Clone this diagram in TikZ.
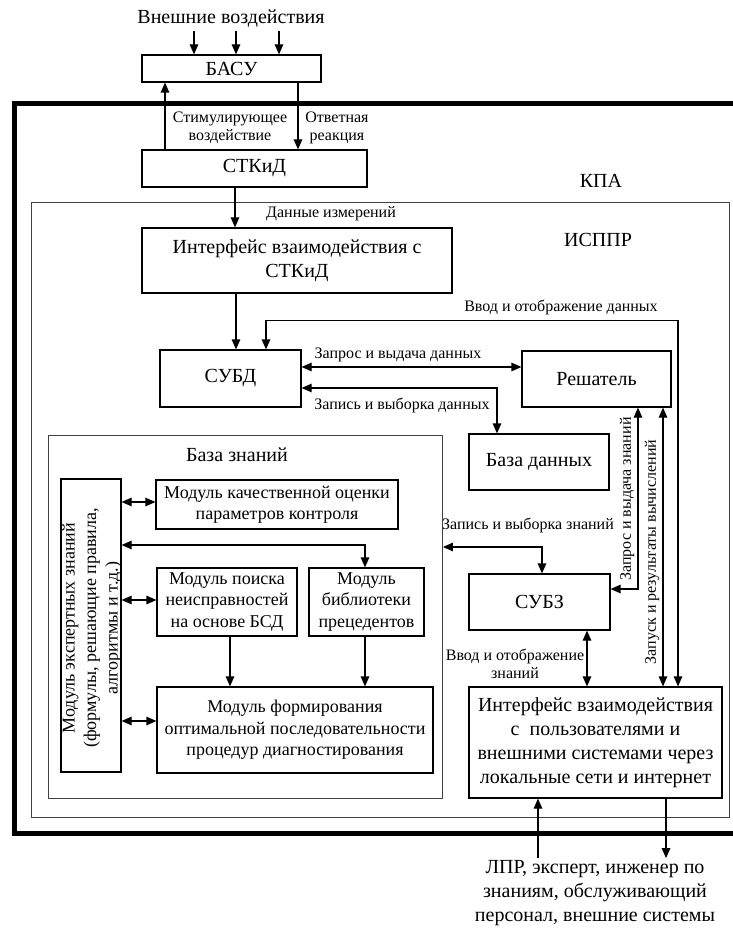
\documentclass[tikz,border=0pt]{standalone}
\usepackage{fontspec}
\setmainfont{Liberation Serif}
\usetikzlibrary{arrows.meta,positioning,calc}
\newcommand{\bigfnt}{\fontsize{20}{24}\selectfont}
\newcommand{\modfnt}{\fontsize{18}{21.5}\selectfont}
\newcommand{\lblfnt}{\fontsize{16}{18.5}\selectfont}
\tikzset{
  bigbox/.style={draw, line width=1.2pt, font=\bigfnt, align=center, inner sep=1pt},
  modbox/.style={draw, line width=1.2pt, font=\modfnt, align=center, inner sep=1pt},
  sysframe/.style={draw=black!75, line width=0.9pt, inner sep=0pt},
  lbl/.style={font=\lblfnt, align=center, inner sep=0pt},
  conn/.style={line width=1.2pt, -{Triangle[length=10pt,width=8.5pt]}},
  biconn/.style={line width=1.2pt, {Triangle[length=10pt,width=8.5pt]}-{Triangle[length=10pt,width=8.5pt]}},
}
\begin{document}
\begin{tikzpicture}[x=1pt, y=-1pt]
  \useasboundingbox (0,0) rectangle (732,928);
  % Outside the complex
  \node[font=\bigfnt] (ext) at (231,19) {Внешние воздействия};
  \node[bigbox, minimum width=179, minimum height=27] (basu) at (231.5,68.5) {БАСУ};
  \foreach \xx in {194,236,279}
    \draw[conn] (ext.south -| \xx,0) -- (basu.north -| \xx,0);

  % KPA frame
  \draw[line width=5pt] (745,104) -- (14,104) -- (14,833) -- (745,833);
  \node[font=\bigfnt] (kpa) at (601,181) {КПА};
  \node[bigbox, minimum width=225, minimum height=37] (stkid) at (254.5,168.5) {СТКиД};
  \draw[conn] (stkid.north -| 165,0) -- (basu.south -| 165,0);
  \draw[conn] (basu.south -| 298,0) -- (stkid.north -| 298,0);
  \node[lbl] (stim) at (230,128) {Стимулирующее\\воздействие};
  \node[lbl] (resp) at (337,128) {Ответная\\реакция};

  % ISPPR frame
  \node[sysframe, minimum width=698, minimum height=615, anchor=north west] (isppr) at (31,202) {};
  \node[font=\bigfnt] (issprlbl) at (598,240) {ИСППР};
  \node[bigbox, minimum width=310, minimum height=65] (ifstkid) at (297,260.5)
        {Интерфейс взаимодействия с\\СТКиД};
  \draw[conn] (stkid.south -| 235,0) -- (ifstkid.north -| 235,0);
  \node[lbl, anchor=west] (meas) at (266,214) {Данные измерений};

  % Data subsystem
  \node[bigbox, minimum width=141, minimum height=57] (subd) at (230.5,378.5) {СУБД};
  \node[bigbox, minimum width=149, minimum height=56] (resh) at (596.5,379) {Решатель};
  \node[bigbox, minimum width=140, minimum height=56] (bd) at (539,462) {База данных};
  \draw[conn] (ifstkid.south -| 236,0) -- (subd.north -| 236,0);
  \draw[biconn] (subd.east |- 0,367) -- (resh.west |- 0,367);
  \draw[biconn] (subd.east |- 0,388) -| (bd.north -| 497,0);
  \node[lbl] (reqdata) at (398,355) {Запрос и выдача данных};
  \node[lbl] (recdata) at (402,405) {Запись и выборка данных};

  % Knowledge subsystem
  \node[bigbox, minimum width=141, minimum height=56] (subz) at (539.5,602) {СУБЗ};
  \node[bigbox, minimum width=253, minimum height=111] (usr) at (595.5,742.5)
        {Интерфейс взаимодействия\\с~ пользователями и\\внешними системами через\\локальные сети и интернет};
  \draw[biconn] (usr.north -| 678,0) -- ++(0,-366) -| (subd.north -| 266,0);
  \node[lbl] (inpdata) at (561,307) {Ввод и отображение данных};
  \draw[biconn] (resh.south -| 638,0) |- (subz.east |- 0,589);
  \draw[biconn] (resh.south -| 663,0) -- (usr.north -| 663,0);
  \draw[biconn] (subz.south -| 587,0) -- (usr.north -| 587,0);
  \node[lbl, rotate=90] (reqkn) at (627,499) {Запрос и выдача знаний};
  \node[lbl, rotate=90] (run) at (652,552) {Запуск и результаты вычислений};
  \node[lbl] (inpkn) at (515,664) {Ввод и отображение\\знаний};

  % Knowledge base
  \node[sysframe, minimum width=394, minimum height=363, anchor=north west] (kb) at (48,435) {};
  \node[font=\bigfnt] (kblbl) at (237,455) {База знаний};
  \draw[biconn] (kb.east |- 0,547) -| (subz.north -| 542,0);
  \node[lbl] (reckn) at (528,525) {Запись и выборка знаний};
  \node[modbox, minimum width=60, minimum height=293] (expert) at (91,625.5) {};
  \node[font=\modfnt, rotate=90, align=center, inner sep=0pt] (experttxt) at (92,628)
        {Модуль экспертных знаний\\(формулы, решающие правила,\\алгоритмы и т.д.)};
  \node[modbox, minimum width=242, minimum height=49] (qual) at (277,504.5)
        {Модуль качественной оценки\\параметров контроля};
  \node[modbox, minimum width=140, minimum height=68] (search) at (227,602)
        {Модуль поиска\\неисправностей\\на основе БСД};
  \node[modbox, minimum width=115, minimum height=68] (lib) at (366.5,602)
        {Модуль\\библиотеки\\прецедентов};
  \node[modbox, minimum width=276, minimum height=86] (form) at (295,730)
        {Модуль формирования\\оптимальной последовательности\\процедур диагностирования};
  \draw[biconn] (expert.east |- 0,502) -- (qual.west |- 0,502);
  \draw[biconn] (expert.east |- 0,545) -| (lib.north -| 365,0);
  \draw[biconn] (expert.east |- 0,600) -- (search.west |- 0,600);
  \draw[biconn] (expert.east |- 0,721) -- (form.west |- 0,721);
  \draw[conn] (search.south -| 230,0) -- (form.north -| 230,0);
  \draw[conn] (lib.south -| 365,0) -- (form.north -| 365,0);

  % Users
  \node[font=\bigfnt, align=center, inner sep=2pt] (people) at (595,893)
        {ЛПР, эксперт, инженер по\\знаниям, обслуживающий\\персонал, внешние системы};
  \draw[conn] (usr.south -| 666,0) -- (people.north -| 666,0);
  \draw[conn] (people.north -| 538,0) -- (usr.south -| 538,0);
\end{tikzpicture}
\end{document}
